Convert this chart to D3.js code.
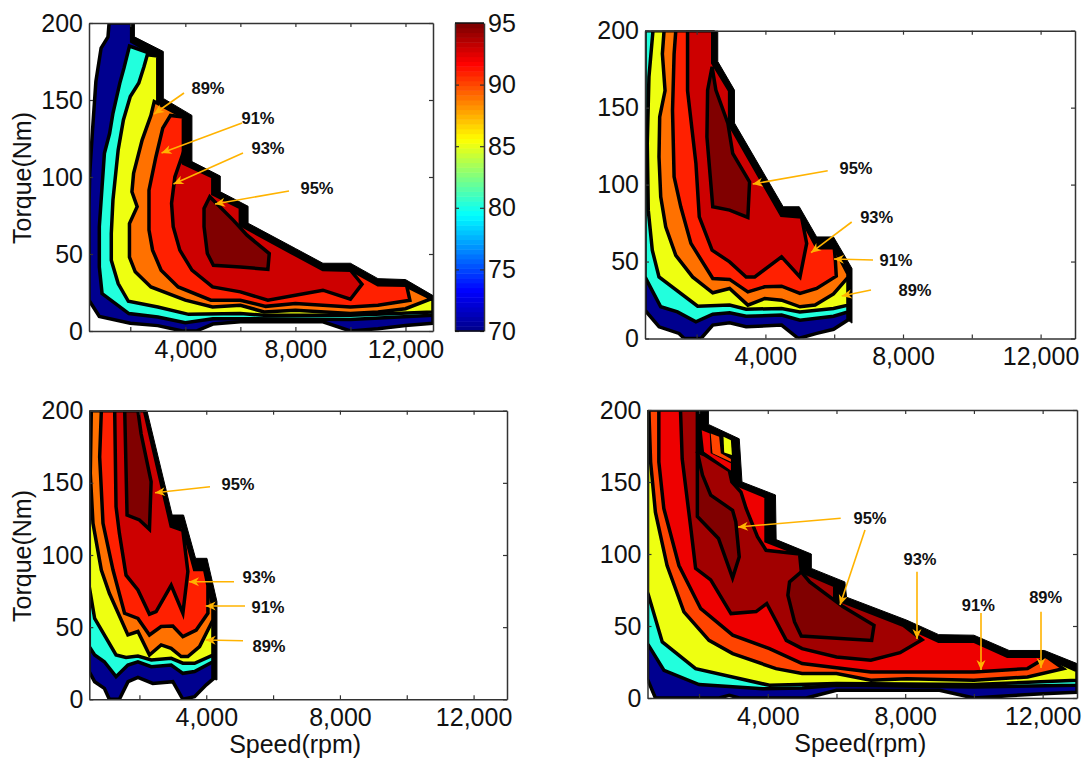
<!DOCTYPE html>
<html>
<head>
<meta charset="utf-8">
<script src="https://cdn.jsdelivr.net/npm/d3@7"></script>
<style>
  html, body { margin: 0; background: #fff; }
  text { font-family: "Liberation Sans", Arial, sans-serif; fill: #111; }
</style>
</head>
<body>
<svg id="chart" width="1082" height="760"></svg>
<script>
// contour levels
const levelsABC = [70, 80.2, 85.2, 89.1, 91.1, 93.1, 95];
const levelsD = [70, 80.2, 85.2, 90.2, 92.3, 94.2, 95];
const pocketLevelsD = [92.3, 90.2, 85.2];

const speedTicks = [2000, 4000, 6000, 8000, 10000, 12000];
const speedLabels = [4000, 8000, 12000];
const torqueTicks = [0, 50, 100, 150, 200];
const barTicks = [70, 75, 80, 85, 90, 95];

// each contour is [speed, torque]. "outer" is the black stepped limit, "rim" runs just inside it
const outerA = [[13000, 23], [12000, 33.4], [11000, 34], [10000, 44], [9000, 44], [8000, 53.6], [6280, 70], [6280, 81], [5270, 90.4], [5270, 100.6], [4240, 110], [4240, 140], [3200, 151], [3200, 181.5], [2150, 191], [2150, 200]];
const rimA = [[13000, 20], [12000, 29.5], [11000, 30], [10000, 40], [9000, 40], [8000, 49.5], [6000, 69], [6000, 80], [5000, 89], [5000, 100], [3930, 109], [3930, 139], [3000, 149], [3000, 178.5], [2050, 188], [2050, 200]];
const navyA = [[1230, 200], [1190, 191], [940, 183.7], [750, 162], [625, 129.5], [525, 102], [500, 80], [500, 20], [875, 9.5], [2000, 5], [3000, 3.5], [3900, 0], [4400, 0], [5000, 4.5], [6000, 6], [9000, 6], [10000, 0], [11000, 1.5], [12000, 3.5], [13000, 5]];
const cyanA = [[1970, 185], [1770, 170.7], [1620, 161], [1370, 141.4], [1250, 128.4], [1060, 115.4], [975, 93.7], [875, 67.7], [875, 41.6], [975, 24.3], [1950, 11.3], [3000, 9.1], [4000, 5.4], [5000, 8], [6000, 8], [10000, 7.4], [13000, 10.2]];
const yellowA = [[2620, 179.4], [2500, 171.8], [2310, 161], [2000, 152.3], [1750, 137], [1560, 117.6], [1370, 85], [1310, 63.3], [1310, 46], [1560, 30.8], [1930, 19.3], [3000, 15.6], [4120, 10.8], [6000, 11.3], [6860, 10.2], [10000, 10.2], [13000, 12.4]];
const orangeA = [[2870, 149], [2750, 140], [2430, 124], [2120, 102.4], [2060, 90.4], [2250, 80.7], [1970, 69.8], [1970, 48], [2180, 38.4], [2750, 28.6], [4000, 20], [4990, 15.6], [6000, 16.7], [6860, 12.4], [8000, 13.4], [10000, 11.3], [11000, 12.4], [12000, 14.5], [12950, 21]];
const redA = [[3460, 140], [3180, 131.7], [2930, 113], [2680, 91.5], [2680, 65.5], [2810, 52.5], [3120, 39.5], [3740, 28.6], [4930, 20], [6000, 20], [6920, 16], [8000, 17.8], [10000, 15.6], [11000, 16.7], [12160, 20], [12040, 29.7]];
const darkA = [[3870, 113], [3620, 100], [3500, 82.9], [3560, 67.7], [3800, 52.5], [4240, 39.5], [4990, 28.6], [6000, 25.4], [7000, 20], [8000, 23.2], [9000, 26.5], [10000, 20.6], [10420, 30.4], [10000, 39.5]];
const peakA = [[4890, 87.2], [4680, 79.6], [4680, 67.7], [4800, 50.3], [5020, 42.7], [6000, 41.6], [7000, 40], [7050, 50.3], [6240, 62.2], [5740, 72]];

const outerB = [[6517, 10], [6517, 45.5], [5980, 66], [5490, 66], [4985, 85.6], [4517, 85.6], [3100, 140], [3100, 161.4], [2615, 180], [2615, 200]];
const rimB = [[6400, 42], [6000, 59], [5500, 59], [5000, 80], [4470, 80], [2960, 139], [2960, 161], [2470, 179], [2470, 200]];
const navyB = [[500, 200], [500, 18.4], [910, 7.6], [1490, 3.3], [1640, 0], [2130, 0], [2470, 8.7], [2960, 10.2], [3440, 7.6], [4470, 8.7], [4960, 0], [5490, 3.3], [5980, 6], [6400, 12]];
const cyanB = [[500, 200], [500, 40], [957, 20.6], [1444, 17.3], [1980, 10.8], [2470, 15.8], [2960, 16.7], [3440, 14.5], [4470, 15.2], [5005, 11.9], [5980, 14.5], [6400, 17.3]];
const yellowB = [[732, 200], [615, 170], [566, 126.8], [595, 83.4], [712, 57.4], [907, 40], [2030, 21], [2960, 21.7], [3440, 19], [4470, 19.5], [5000, 17.3], [5980, 19.5], [6400, 21.7]];
const orangeB = [[1054, 200], [1005, 185], [1083, 161], [927, 144], [907, 118], [957, 92], [1102, 72.6], [1395, 54], [1883, 40], [2470, 29.7], [2960, 32.5], [3490, 21.7], [3980, 26], [4470, 24.9], [5005, 20.6], [5445, 21.7], [5980, 29], [6400, 39.7]];
const redB = [[1395, 200], [1346, 185], [1300, 148], [1346, 105], [1540, 85.6], [1835, 61.8], [2470, 39], [2960, 38.4], [3490, 30.3], [3980, 33.6], [4470, 34], [5005, 29.3], [5490, 32.5], [6060, 40.5], [6030, 52]];
const darkB = [[1737, 200], [1737, 161], [1980, 113.8], [2078, 79], [2450, 57.4], [2960, 49.8], [3440, 40], [3690, 40], [4470, 53], [5005, 40], [5200, 61.8], [5050, 79], [4470, 80]];
const peakB = [[2450, 176.6], [2320, 161.4], [2300, 131], [2470, 85.6], [2960, 83.4], [3490, 78.7], [3540, 101.8], [3050, 120.3], [2910, 139.8], [2560, 161.4]];

const outerC = [[4320, 13.4], [4320, 67.7], [4020, 97.7], [3680, 97.7], [3320, 127.7], [2980, 127.7], [2225, 200]];
const rimC = [[4200, 64], [3950, 90], [3650, 90], [3300, 120], [2950, 120], [2150, 200]];
const navyC = [[500, 200], [500, 19], [660, 12.2], [950, 7.6], [1100, 0], [1400, 0], [1660, 12.2], [1955, 15.2], [2400, 11], [3000, 12.2], [3300, 0], [3650, 1.8], [4000, 10], [4200, 14]];
const cyanC = [[500, 200], [500, 36.5], [660, 30.7], [950, 26], [1300, 15.7], [1655, 23.8], [1955, 26], [2355, 22.6], [2950, 23.8], [3300, 18], [3650, 19.2], [4200, 26]];
const yellowC = [[500, 200], [500, 78], [660, 56], [1300, 30.7], [1600, 29], [1955, 30], [2355, 27.3], [2950, 28.4], [3300, 25], [3650, 25], [4200, 30.7]];
const orangeC = [[560, 200], [530, 156.6], [610, 122], [860, 89.6], [1100, 73.5], [1655, 44.6], [1955, 47], [2300, 30.7], [2650, 37.7], [2950, 35.3], [3250, 29.6], [3450, 29.6], [3800, 36.5], [4200, 55]];
const redC = [[860, 200], [810, 168], [910, 122], [1210, 89.6], [1555, 59.6], [1955, 56], [2300, 44.6], [2650, 50.4], [3000, 50.8], [3300, 43.4], [3700, 48], [4050, 59.6], [4050, 79]];
const darkC = [[1260, 200], [1300, 133.5], [1400, 115], [1600, 86], [1955, 75.8], [2300, 59], [2500, 60.8], [2950, 79], [3300, 59.6], [3450, 88.5], [3300, 117]];
const peakC = [[1560, 200], [1630, 127.7], [2000, 124.3], [2300, 117.8], [2350, 150.8], [2050, 184], [1955, 200]];

const outerD = [[13000, 4], [13000, 23.9], [12050, 33], [11024, 33], [10000, 43.6], [8975, 44], [8050, 54], [6293, 70], [6244, 80.6], [5268, 90], [5268, 100], [4244, 110], [4224, 141], [3250, 150], [3170, 180], [2273, 190], [2273, 200]];
const rimD = [[12050, 29], [10975, 29], [10000, 39.4], [8975, 39.4], [7950, 50.5], [5950, 69], [5950, 78], [4927, 88.7], [4927, 100], [3950, 109], [3950, 139.7], [3220, 147], [2976, 149], [2900, 155], [2100, 170], [1900, 170], [1900, 200]];
const navyD = [[500, 200], [500, 13], [730, 0], [2585, 0], [2880, 1.9], [3170, 0], [5120, 0], [6000, 5.3], [9000, 5.3], [10000, 0], [11000, 1.5], [12000, 3], [13000, 4], [13000, 19]];
const cyanD = [[500, 200], [500, 37.8], [980, 19.2], [2000, 9.3], [3850, 6.5], [5000, 7], [6000, 8.8], [10000, 7.6], [13000, 8.8], [13000, 19]];
const yellowD = [[500, 200], [500, 73.7], [930, 38.9], [1900, 20.4], [4050, 8.8], [6000, 10], [10000, 9.3], [13000, 12.3], [13000, 19]];
const orangeD = [[540, 200], [590, 164], [730, 129], [1070, 92], [1560, 59.8], [2290, 40], [2980, 30.8], [4240, 20.4], [5000, 17], [6000, 17], [7000, 12.3], [8050, 13.4], [10000, 12.3], [11560, 14.6], [12600, 20.4], [12150, 28]];
const redD = [[830, 200], [830, 164], [975, 131.6], [1415, 92], [2050, 62], [2980, 43.6], [4050, 34.3], [5000, 23.9], [7000, 18], [10000, 18], [11560, 20.4], [11950, 26]];
const darkD = [[1460, 200], [1510, 166], [1760, 118], [1900, 90], [2340, 82], [2930, 58.6], [3660, 60], [3970, 65.6], [4540, 40], [5000, 34.3], [6000, 28.5], [7000, 26.2], [7850, 31.5], [8490, 40.5], [7950, 50.5], [5950, 69], [5950, 78], [4976, 88], [4927, 100], [3950, 102.6], [3700, 112], [3370, 131.6], [3220, 143], [2955, 150], [2880, 158], [2146, 169], [1951, 171], [1951, 200]];
const peakD1 = [[1951, 126], [2566, 110.8], [2976, 83.4], [3170, 98], [3070, 122.3], [2976, 130.4], [2340, 140.9], [2100, 154.8], [1951, 171]];
const peakD2 = [[4976, 87.6], [4634, 80.6], [4585, 71.4], [4780, 52.8], [4976, 43], [7024, 40], [7092, 50.5], [6195, 63.3], [5220, 80.6]];
const pocketD1 = [[2078, 186], [2146, 171], [2927, 158], [2927, 163], [2340, 170], [2312, 183.7]];
const pocketD2 = [[2340, 183.7], [2390, 170], [2927, 164], [2927, 166], [2634, 170], [2585, 181.4]];
const pocketD3 = [[2712, 181.4], [2927, 179], [2956, 168.7], [2732, 170.5]];

const panels = [
  {
    id: "a", xr: [89, 433], yr: [331, 23], yLabel: true, xLabel: false, levels: levelsABC,
    outer: navyA.concat(outerA),
    contours: [
      navyA.concat(rimA),
      cyanA.concat(rimA.slice(0, 14)),
      yellowA.concat(rimA.slice(0, 14)),
      orangeA.concat(rimA.slice(1, 12)),
      redA.concat(rimA.slice(2, 12)),
      darkA.concat(rimA.slice(4, 11)),
      peakA
    ]
  },
  {
    id: "b", xr: [645, 1075], yr: [338.5, 30.7], yLabel: false, xLabel: false, levels: levelsABC,
    outer: navyB.concat(outerB),
    contours: [
      navyB.concat(rimB),
      cyanB.concat(rimB),
      yellowB.concat(rimB),
      orangeB.concat(rimB),
      redB.concat(rimB.slice(1)),
      darkB.concat(rimB.slice(5)),
      peakB
    ]
  },
  {
    id: "c", xr: [89.3, 507], yr: [699.3, 410.7], yLabel: true, xLabel: true, levels: levelsABC,
    outer: navyC.concat(outerC),
    contours: [
      navyC.concat(rimC),
      cyanC.concat(rimC),
      yellowC.concat(rimC),
      orangeC.concat(rimC),
      redC.concat(rimC.slice(1)),
      darkC.concat(rimC.slice(4)),
      peakC
    ]
  },
  {
    id: "d", xr: [647.5, 1077], yr: [698, 410], yLabel: false, xLabel: true, levels: levelsD,
    outer: navyD.concat(outerD),
    contours: [
      navyD.concat(rimD),
      cyanD.concat(rimD),
      yellowD.concat(rimD),
      orangeD.concat(rimD),
      redD.concat(rimD),
      darkD,
      peakD1
    ],
    extra: [peakD2],
    pockets: [pocketD1, pocketD2, pocketD3]
  }
];

// callouts: label, label centre, arrow start, arrow tip (page pixels)
const callouts = [
  ["89%", 208, 88, 184, 93, 154, 114],
  ["91%", 258, 118, 242, 123, 161.5, 153],
  ["93%", 268, 148, 243, 153, 173.5, 184],
  ["95%", 317, 188, 289, 191, 215, 204],
  ["95%", 856, 168, 827.7, 170.7, 752.7, 184],
  ["93%", 876.7, 217, 851.7, 222, 811, 252.7],
  ["91%", 896, 260, 873, 260, 834, 259],
  ["89%", 915, 290, 871, 290, 841.7, 296],
  ["95%", 238, 484, 210, 486.7, 155, 492.7],
  ["93%", 259, 577, 234, 581.7, 189, 581.7],
  ["91%", 268, 606.7, 245, 606, 205.7, 606],
  ["89%", 269, 646, 243, 640.7, 205.7, 640],
  ["95%", 870, 518.3, 840.7, 518.3, 738, 527],
  ["", 0, 0, 865, 530, 840, 605],
  ["93%", 920, 559.3, 917, 571.7, 917, 639],
  ["91%", 978.3, 605, 981, 613, 981, 670],
  ["89%", 1045.7, 596.7, 1041, 611.7, 1041, 668]
];

const jet = d3.scaleLinear()
  .domain([0, 0.125, 0.375, 0.625, 0.875, 1])
  .range(["#00008f", "#0000ff", "#00ffff", "#ffff00", "#ff0000", "#800000"]);
const levelColor = (v) => jet((v - 70) / 25);

const svg = d3.select("#chart");
const defs = svg.append("defs");

defs.append("marker")
  .attr("id", "head")
  .attr("markerUnits", "userSpaceOnUse")
  .attr("viewBox", "-11 -6 12 12")
  .attr("refX", 0)
  .attr("refY", 0)
  .attr("markerWidth", 12)
  .attr("markerHeight", 12)
  .attr("orient", "auto")
  .append("path")
  .attr("d", "M0,0L-10,-4.5L-7,0L-10,4.5Z")
  .attr("fill", "#ffb300");

const styleAxis = (g) => {
  g.selectAll("path").attr("stroke", "#333").attr("stroke-width", 1.5);
  g.selectAll("line").attr("stroke", "#333").attr("stroke-width", 1.2);
  g.selectAll("text").style("font-size", "25px").attr("fill", "#111");
};

panels.forEach((p) => {
  const x = d3.scaleLinear().domain([500, 13000]).range(p.xr);
  const y = d3.scaleLinear().domain([0, 200]).range(p.yr);
  const line = d3.line().x((d) => x(d[0])).y((d) => y(d[1])).curve(d3.curveLinearClosed);

  defs.append("clipPath").attr("id", "clip-" + p.id)
    .append("rect")
    .attr("x", p.xr[0])
    .attr("y", p.yr[1])
    .attr("width", p.xr[1] - p.xr[0])
    .attr("height", p.yr[0] - p.yr[1]);

  const g = svg.append("g").attr("clip-path", "url(#clip-" + p.id + ")");

  g.append("path")
    .attr("d", line(p.outer))
    .attr("fill", "#000")
    .attr("stroke", "#000")
    .attr("stroke-width", 1);

  g.selectAll("path.level")
    .data(p.contours)
    .enter().append("path")
    .attr("class", "level")
    .attr("d", line)
    .attr("fill", (d, i) => levelColor(p.levels[i]))
    .attr("stroke", "#000")
    .attr("stroke-width", 3.5)
    .attr("stroke-linejoin", "miter")
    .attr("stroke-miterlimit", 5);

  if (p.extra) {
    g.selectAll("path.extra")
      .data(p.extra)
      .enter().append("path")
      .attr("class", "extra")
      .attr("d", line)
      .attr("fill", levelColor(95))
      .attr("stroke", "#000")
      .attr("stroke-width", 3.5);
  }

  if (p.pockets) {
    g.selectAll("path.pocket")
      .data(p.pockets)
      .enter().append("path")
      .attr("class", "pocket")
      .attr("d", line)
      .attr("fill", (d, i) => levelColor(pocketLevelsD[i]));
  }

  // box with ticks on all four sides, labels only at the bottom and left
  const xFormat = (d) => (speedLabels.includes(d) ? d3.format(",")(d) : "");
  svg.append("g")
    .attr("transform", `translate(0,${p.yr[0]})`)
    .call(d3.axisBottom(x).tickValues(speedTicks).tickSizeInner(-4).tickSizeOuter(0).tickPadding(9).tickFormat(xFormat))
    .call(styleAxis);
  svg.append("g")
    .attr("transform", `translate(0,${p.yr[1]})`)
    .call(d3.axisTop(x).tickValues(speedTicks).tickSizeInner(-4).tickSizeOuter(0).tickFormat(""))
    .call(styleAxis);
  svg.append("g")
    .attr("transform", `translate(${p.xr[0]},0)`)
    .call(d3.axisLeft(y).tickValues(torqueTicks).tickSizeInner(-4).tickSizeOuter(0).tickPadding(6).tickFormat(d3.format("d")))
    .call(styleAxis);
  svg.append("g")
    .attr("transform", `translate(${p.xr[1]},0)`)
    .call(d3.axisRight(y).tickValues(torqueTicks).tickSizeInner(-4).tickSizeOuter(0).tickFormat(""))
    .call(styleAxis);

  if (p.yLabel) {
    svg.append("text")
      .attr("transform", `translate(31,${(p.yr[0] + p.yr[1]) / 2 + 1}) rotate(-90)`)
      .attr("text-anchor", "middle")
      .style("font-size", "25px")
      .text("Torque(Nm)");
  }
  if (p.xLabel) {
    svg.append("text")
      .attr("x", (p.xr[0] + p.xr[1]) / 2 + (p.id === "c" ? -3 : -2))
      .attr("y", p.yr[0] + 54)
      .attr("text-anchor", "middle")
      .style("font-size", "25px")
      .text("Speed(rpm)");
  }
});

// colour bar
const barY = d3.scaleLinear().domain([70, 95]).range([331, 23]);
const barStops = d3.range(64);
svg.append("g").selectAll("rect")
  .data(barStops)
  .enter().append("rect")
  .attr("x", 455)
  .attr("width", 29)
  .attr("y", (d) => barY(70 + (d + 1) * 25 / 64))
  .attr("height", 308 / 64 + 0.5)
  .attr("fill", (d) => jet(d / 63));

svg.append("g")
  .attr("transform", "translate(484,0)")
  .call(d3.axisRight(barY).tickValues(barTicks).tickSizeInner(-4).tickSizeOuter(0).tickPadding(4))
  .call(styleAxis);
svg.append("g")
  .attr("transform", "translate(455,0)")
  .call(d3.axisLeft(barY).tickValues(barTicks).tickSizeInner(-4).tickSizeOuter(0).tickFormat(""))
  .call(styleAxis);
svg.append("line")
  .attr("x1", 455).attr("x2", 484).attr("y1", 23).attr("y2", 23)
  .attr("stroke", "#111").attr("stroke-width", 1.5);
svg.append("line")
  .attr("x1", 455).attr("x2", 484).attr("y1", 331).attr("y2", 331)
  .attr("stroke", "#111").attr("stroke-width", 1.5);

// callout arrows
svg.append("g").selectAll("line")
  .data(callouts)
  .enter().append("line")
  .attr("x1", (d) => d[3])
  .attr("y1", (d) => d[4])
  .attr("x2", (d) => d[5])
  .attr("y2", (d) => d[6])
  .attr("stroke", "#ffb300")
  .attr("stroke-width", 1.6)
  .attr("marker-end", "url(#head)");

svg.append("g").selectAll("text")
  .data(callouts.filter((d) => d[0] !== ""))
  .enter().append("text")
  .attr("x", (d) => d[1])
  .attr("y", (d) => d[2])
  .attr("dy", "0.36em")
  .attr("text-anchor", "middle")
  .style("font-size", "16.5px")
  .style("font-weight", "bold")
  .text((d) => d[0]);
</script>
</body>
</html>
